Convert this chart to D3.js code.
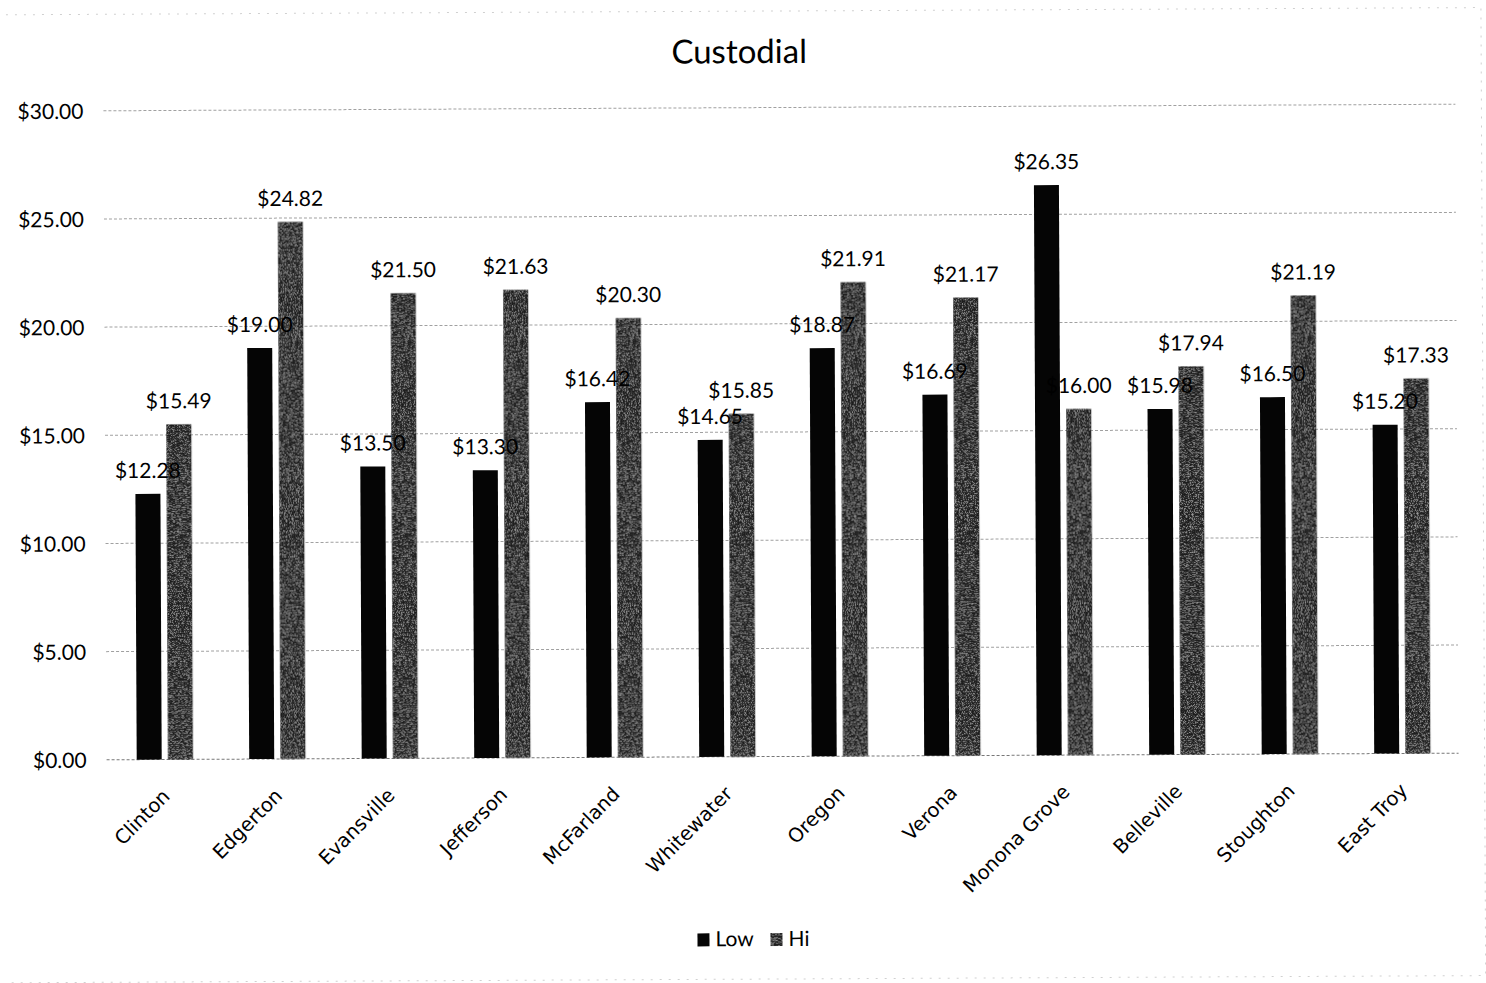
<!DOCTYPE html>
<html>
<head>
<meta charset="utf-8">
<script src="https://cdn.jsdelivr.net/npm/d3@7"></script>
<style>
  html, body { margin: 0; padding: 0; background: #fff; }
  svg { display: block; }
</style>
</head>
<body>
<div id="chart"></div>
<script>
// Custodial hourly pay ranges by district
const categories = ["Clinton", "Edgerton", "Evansville", "Jefferson", "McFarland", "Whitewater",
                    "Oregon", "Verona", "Monona Grove", "Belleville", "Stoughton", "East Troy"];
const seriesNames = ["Low", "Hi"];
const lowValues = [12.28, 19.00, 13.50, 13.30, 16.42, 14.65, 18.87, 16.69, 26.35, 15.98, 16.50, 15.20];
const hiValues  = [15.49, 24.82, 21.50, 21.63, 20.30, 15.85, 21.91, 21.17, 16.00, 17.94, 21.19, 17.33];
const yTicks = [0, 5, 10, 15, 20, 25, 30];
const title = "Custodial";

const W = 1486, H = 983;
const plot = { left: 107, right: 1457, top: 107.5, bottom: 756.5 };
const labelFont = "Lato, 'Open Sans', sans-serif";
const catFont = "'DejaVu Sans', Verdana, sans-serif";

const rows = categories.map((c, i) => ({ cat: c, Low: lowValues[i], Hi: hiValues[i] }));

const svg = d3.select("#chart").append("svg")
  .attr("width", W).attr("height", H);

// fine speckled toner texture for the "Hi" series
const defs = svg.append("defs");
const grain = defs.append("filter").attr("id", "grain")
  .attr("x", 0).attr("y", 0).attr("width", 1).attr("height", 1);
grain.append("feTurbulence").attr("type", "fractalNoise")
  .attr("baseFrequency", 1.5).attr("numOctaves", 1).attr("seed", 7).attr("result", "noise");
grain.append("feColorMatrix").attr("in", "noise").attr("type", "matrix")
  .attr("values", "0 0 0 0 0.5  0 0 0 0 0.5  0 0 0 0 0.5  0 0 0 2.0 -0.95").attr("result", "specks");
grain.append("feComposite").attr("in", "specks").attr("in2", "SourceGraphic")
  .attr("operator", "in").attr("result", "clipped");
const merge = grain.append("feMerge");
merge.append("feMergeNode").attr("in", "SourceGraphic");
merge.append("feMergeNode").attr("in", "clipped");

const root = svg.append("g").attr("transform", "rotate(-0.28, 780, 432)");

const x0 = d3.scaleBand().domain(categories).range([plot.left, plot.right])
  .paddingInner(0.5).paddingOuter(0.25);
const x1 = d3.scaleBand().domain(seriesNames).range([0, x0.bandwidth()]).paddingInner(0.2);
const y = d3.scaleLinear().domain([0, 30]).range([plot.bottom, plot.top]);

const color = { Low: "#050505", Hi: "#1c1c1c" };

// gridlines
root.append("g").selectAll("line").data(yTicks).join("line")
  .attr("x1", plot.left - 2).attr("x2", plot.right)
  .attr("y1", d => y(d)).attr("y2", d => y(d))
  .attr("stroke", d => d === 0 ? "#777" : "#a0a0a0")
  .attr("stroke-width", 1)
  .attr("stroke-dasharray", "3 2");

// y axis labels
const yAxis = d3.axisLeft(y).tickValues(yTicks).tickSize(0).tickPadding(0)
  .tickFormat(d => "$" + d3.format(".2f")(d));
const yg = root.append("g").attr("transform", `translate(${plot.left - 22},0)`).call(yAxis);
yg.select(".domain").remove();
yg.selectAll("text")
  .attr("font-family", labelFont).attr("font-size", 21).attr("fill", "#000").attr("dy", "0.35em");

// bars
const groups = root.append("g").selectAll("g").data(rows).join("g")
  .attr("transform", d => `translate(${x0(d.cat)},0)`);

groups.selectAll("rect").data(d => seriesNames.map(k => ({ key: k, value: d[k] }))).join("rect")
  .attr("x", d => x1(d.key))
  .attr("width", x1.bandwidth())
  .attr("y", d => y(d.value))
  .attr("height", d => y(0) - y(d.value))
  .attr("fill", d => color[d.key])
  .attr("filter", d => d.key === "Hi" ? "url(#grain)" : null);

// value labels
groups.selectAll("text").data(d => seriesNames.map(k => ({ key: k, value: d[k] }))).join("text")
  .attr("x", d => x1(d.key) + x1.bandwidth() / 2)
  .attr("y", d => y(d.value) - 16)
  .attr("text-anchor", "middle")
  .attr("font-family", labelFont).attr("font-size", 21).attr("fill", "#000")
  .text(d => "$" + d3.format(".2f")(d.value));

// category axis labels
const xAxis = d3.axisBottom(x0).tickSize(0).tickPadding(0);
const xg = root.append("g").attr("transform", `translate(0,${plot.bottom})`).call(xAxis);
xg.select(".domain").remove();
xg.selectAll(".tick text")
  .attr("font-family", catFont).attr("font-size", 19.5).attr("fill", "#000")
  .attr("text-anchor", "end").attr("dy", 0).attr("y", 0)
  .attr("transform", "translate(6,38) rotate(-45)");

// title
root.append("text")
  .attr("x", 741).attr("y", 63)
  .attr("text-anchor", "middle")
  .attr("font-family", labelFont).attr("font-size", 33).attr("fill", "#000")
  .text(title);

// legend
const legend = root.append("g").attr("transform", "translate(695,946)");
const legendItems = legend.selectAll("g").data(seriesNames).join("g")
  .attr("transform", (d, i) => `translate(${i === 0 ? 0 : 73},0)`);
legendItems.append("rect")
  .attr("x", 0).attr("y", -13).attr("width", 12).attr("height", 13)
  .attr("fill", d => color[d])
  .attr("filter", d => d === "Hi" ? "url(#grain)" : null);
legendItems.append("text")
  .attr("x", 18).attr("y", 0)
  .attr("font-family", labelFont).attr("font-size", 21).attr("fill", "#000")
  .text(d => d);

// chart area border
root.append("path")
  .attr("d", `M8,11 H1483 V979 H8`)
  .attr("fill", "none").attr("stroke", "#d0d0d0").attr("stroke-width", 1)
  .attr("stroke-dasharray", "2 7");
</script>
</body>
</html>
